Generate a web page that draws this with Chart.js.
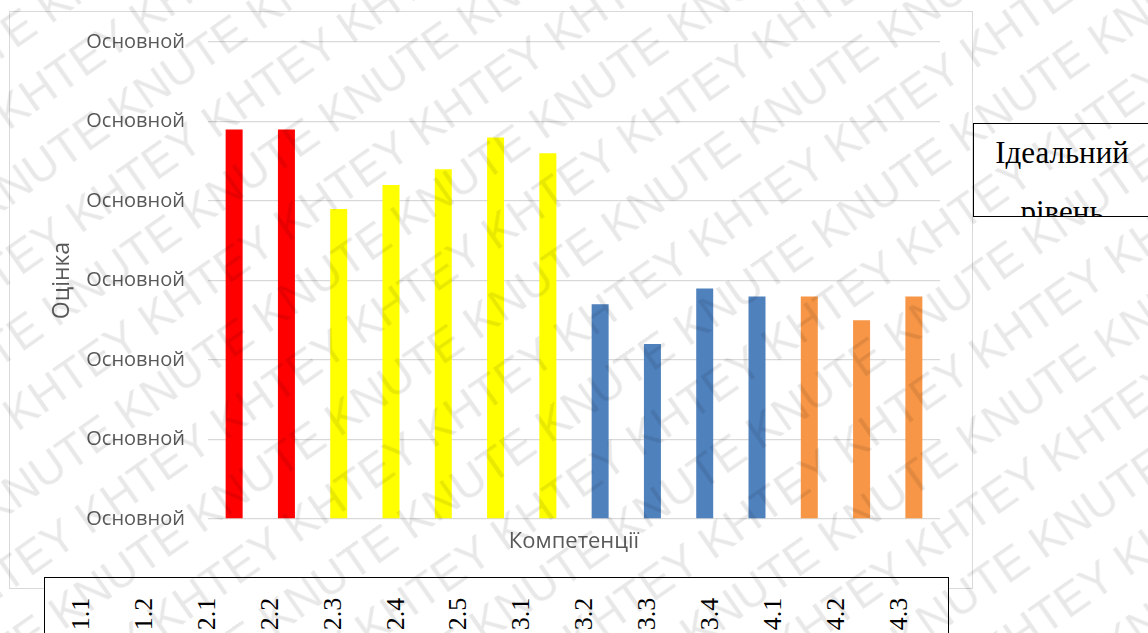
<!DOCTYPE html>
<html>
<head>
<meta charset="utf-8">
<script src="https://cdn.jsdelivr.net/npm/chart.js@4"></script>
<style>
  html, body { margin: 0; padding: 0; background: #fff; }
  body { width: 1148px; height: 633px; position: relative; overflow: hidden; }
  #chartBox { position: absolute; left: 10px; top: 12px; width: 962px; height: 576px; }
  #chartBox canvas { outline: 1px solid #d9d9d9; }
  #cats {
    position: absolute; left: 44px; top: 577px; width: 905px; height: 80px;
    border: 1px solid #000; background: #fff; box-sizing: border-box;
  }
  #cats span {
    position: absolute; top: 23px; width: 60px; margin-left: -30px; text-align: center;
    font: 26px "Liberation Serif", "Times New Roman", serif; color: #000;
    transform: rotate(-90deg); line-height: 26px;
  }
  #ideal {
    position: absolute; left: 973px; top: 123px; width: 178px; height: 94px;
    border: 1px solid #000; background: #fff; box-sizing: border-box; overflow: hidden;
    font: 31px "Liberation Serif", "Times New Roman", serif; color: #000;
    text-align: center; line-height: 59px; margin-top: 0;
  }
  #ideal div { margin-top: -1px; }
  #wm { position: absolute; left: 0; top: 0; width: 1148px; height: 633px; overflow: hidden; pointer-events: none; }
  #wm .rows { position: absolute; left: -700px; top: -900px; width: 2600px; transform: rotate(-35deg); transform-origin: 1274px 1216px; }
  #wm .row { white-space: nowrap; font: 46px "Liberation Sans", Arial, sans-serif; line-height: 63px; color: rgba(0,0,0,0.09); }
</style>
</head>
<body>
<div id="chartBox"><canvas id="scoreChart" width="962" height="576"></canvas></div>
<div id="ideal"><div>Ідеальний<br>рівень</div></div>
<div id="cats"></div>
<div id="wm"><div class="rows"></div></div>

<script>
/* chart data */
const categories = ['1.1', '1.2', '2.1', '2.2', '2.3', '2.4', '2.5', '3.1', '3.2', '3.3', '3.4', '4.1', '4.2', '4.3'];
const scores = [4.9, 4.9, 3.9, 4.2, 4.4, 4.8, 4.6, 2.7, 2.2, 2.9, 2.8, 2.8, 2.5, 2.8];
const yTickLabels = ['Основной', 'Основной', 'Основной', 'Основной', 'Основной', 'Основной', 'Основной'];
const yTitle = 'Оцінка';
const xTitle = 'Компетенції';
const legendText = 'Ідеальний рівень';

/* colour per competence group (first digit of the category) */
const groupColors = { '1': '#ff0000', '2': '#ffff00', '3': '#4f81bd', '4': '#f79646' };
const barColors = categories.map(c => groupColors[c.split('.')[0]]);

const axisFont = { family: '"Open Sans", "Noto Sans", sans-serif', size: 20 };
const titleFont = { family: '"Open Sans", "Noto Sans", sans-serif', size: 22 };

new Chart(document.getElementById('scoreChart').getContext('2d'), {
  type: 'bar',
  data: {
    labels: categories,
    datasets: [{
      label: legendText,
      data: scores,
      backgroundColor: barColors,
      borderWidth: 0,
      categoryPercentage: 1,
      barPercentage: 0.325,
    }],
  },
  options: {
    responsive: false,
    animation: false,
    layout: { padding: { top: 30, right: 32, left: 0, bottom: 0 } },
    plugins: { legend: { display: false }, tooltip: { enabled: false } },
    scales: {
      x: {
        grid: { display: false },
        border: { display: false },
        ticks: { display: false },
        title: { display: true, text: xTitle, color: '#595959', font: titleFont, padding: { top: 0, bottom: 33 } },
        afterFit: s => { s.height = 69; },
      },
      y: {
        min: 0,
        max: 6,
        grid: { color: '#d9d9d9', lineWidth: 1.3, drawTicks: false, tickLength: 0 },
        border: { display: false },
        ticks: {
          stepSize: 1,
          color: '#595959',
          font: axisFont,
          padding: 23,
          callback: (v, i) => yTickLabels[i],
        },
        title: { display: true, text: yTitle, color: '#595959', font: { ...titleFont, size: 23 }, padding: { top: 39, bottom: 0 } },
        // fixed axis width; drop the label overhang so the plot top stays put
        afterFit: s => { s.width = 198; s.paddingTop = 0; s.paddingBottom = 0; },
      },
    },
  },
});

/* category table under the chart */
const cats = document.getElementById('cats');
categories.forEach((c, i) => {
  const s = document.createElement('span');
  s.textContent = c;
  s.style.left = (36 + i * 62.9) + 'px';
  cats.appendChild(s);
});

/* watermark */
const rows = document.querySelector('#wm .rows');
for (let r = 0; r < 40; r++) {
  const d = document.createElement('div');
  d.className = 'row';
  d.style.paddingLeft = (r % 2 ? 90 : 0) + 'px';
  d.textContent = Array(16).fill(r % 2 ? 'KHTEY' : 'KNUTE').join(' ');
  rows.appendChild(d);
}
</script>
</body>
</html>
